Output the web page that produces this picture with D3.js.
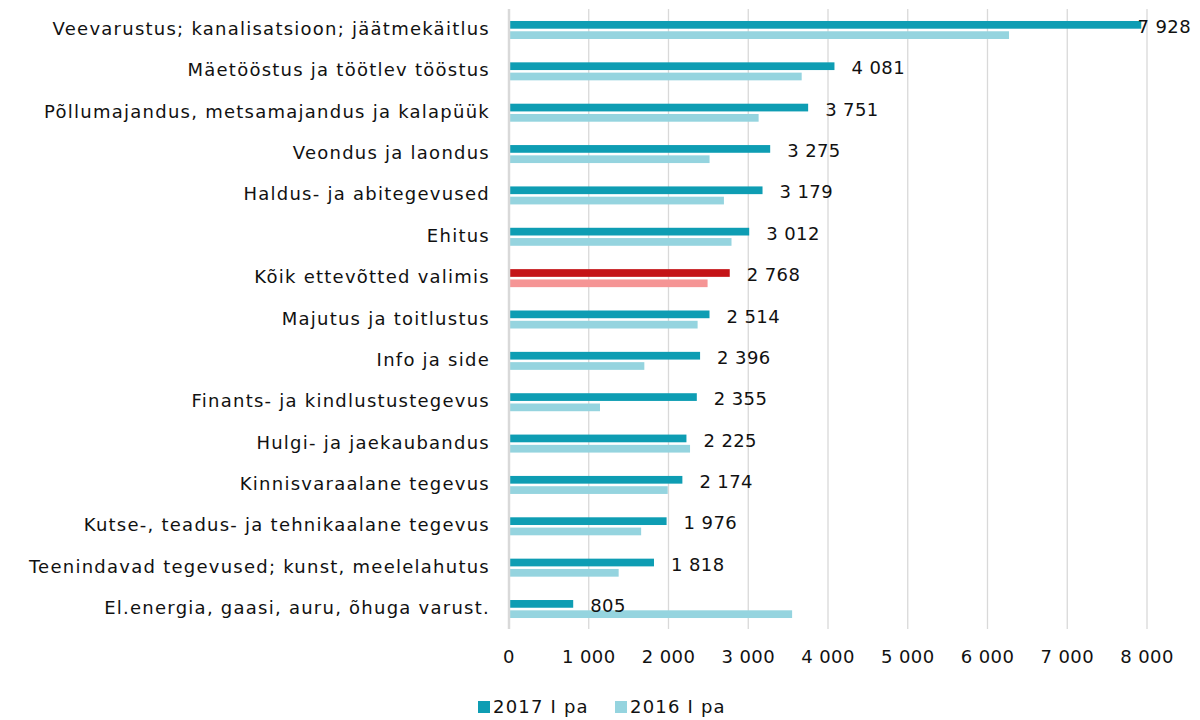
<!DOCTYPE html>
<html>
<head>
<meta charset="utf-8">
<script src="https://cdn.jsdelivr.net/npm/d3@7/dist/d3.min.js"></script>
<style>
  body { margin: 0; background: #fff; }
  text { font-family: "DejaVu Sans", sans-serif; fill: #111; }
</style>
</head>
<body>
<div id="chart"></div>
<script>
var categories = [
  "Veevarustus; kanalisatsioon; jäätmekäitlus",
  "Mäetööstus ja töötlev tööstus",
  "Põllumajandus, metsamajandus ja kalapüük",
  "Veondus ja laondus",
  "Haldus- ja abitegevused",
  "Ehitus",
  "Kõik ettevõtted valimis",
  "Majutus ja toitlustus",
  "Info ja side",
  "Finants- ja kindlustustegevus",
  "Hulgi- ja jaekaubandus",
  "Kinnisvaraalane tegevus",
  "Kutse-, teadus- ja tehnikaalane tegevus",
  "Teenindavad tegevused; kunst, meelelahutus",
  "El.energia, gaasi, auru, õhuga varust."
];
var values2017 = [7928, 4081, 3751, 3275, 3179, 3012, 2768, 2514, 2396, 2355, 2225, 2174, 1976, 1818, 805];
var values2016 = [6270, 3670, 3130, 2515, 2695, 2790, 2490, 2365, 1697, 1141, 2270, 1990, 1657, 1375, 3550];
var seriesNames = ["2017 I pa", "2016 I pa"];
var xTicks = [0, 1000, 2000, 3000, 4000, 5000, 6000, 7000, 8000];
var highlight = "Kõik ettevõtted valimis";

var width = 1200, height = 720;
var fmt = function(v) { return d3.format(",")(v).replace(/,/g, " "); };

var svg = d3.select("#chart").append("svg")
  .attr("width", width)
  .attr("height", height);

var x = d3.scaleLinear().domain([0, 8000]).range([509, 1147]);

var y = d3.scaleBand()
  .domain(categories)
  .range([9.3, 629.7]);

var ySub = d3.scaleBand()
  .domain(seriesNames)
  .range([-9, 9])
  .paddingInner(0.25);

var colors = {
  "2017 I pa": "#0e9db3",
  "2016 I pa": "#95d4df"
};
var hiColors = {
  "2017 I pa": "#c41317",
  "2016 I pa": "#f59595"
};

// gridlines
svg.append("g")
  .selectAll("line")
  .data(xTicks.slice(1))
  .enter().append("line")
  .attr("x1", function(d) { return x(d); })
  .attr("x2", function(d) { return x(d); })
  .attr("y1", 9)
  .attr("y2", 629)
  .style("stroke", "#d9d9d9")
  .style("stroke-width", 1.3);

// bars
var rows = categories.map(function(c, i) {
  return { cat: c, v: [values2017[i], values2016[i]] };
});

var groups = svg.append("g")
  .selectAll("g")
  .data(rows)
  .enter().append("g")
  .attr("transform", function(d) { return "translate(0," + (y(d.cat) + y.bandwidth() / 2) + ")"; });

groups.selectAll("rect")
  .data(function(d) {
    return seriesNames.map(function(s, j) { return { cat: d.cat, s: s, v: d.v[j] }; });
  })
  .enter().append("rect")
  .attr("x", x(0))
  .attr("y", function(d) { return ySub(d.s); })
  .attr("height", ySub.bandwidth())
  .attr("width", function(d) { return x(d.v) - x(0); })
  .style("fill", function(d) { return d.cat == highlight ? hiColors[d.s] : colors[d.s]; });

// value labels for 2017
groups.append("text")
  .attr("y", -2)
  .attr("dominant-baseline", "middle")
  .style("font-size", "18px")
  .style("letter-spacing", "0.4px")
  .text(function(d) { return fmt(d.v[0]); })
  .each(function(d) {
    var w = this.getComputedTextLength();
    var px = x(d.v[0]) + 17;
    if (px + w > 1191) px = 1191 - w;
    d3.select(this).attr("x", px);
  });

// axis line at zero
svg.append("line")
  .attr("x1", x(0)).attr("x2", x(0))
  .attr("y1", 9).attr("y2", 629)
  .style("stroke", "#d9d9d9")
  .style("stroke-width", 2.5);

// category labels
svg.append("g")
  .selectAll("text")
  .data(categories)
  .enter().append("text")
  .attr("x", 490)
  .attr("y", function(d) { return y(d) + y.bandwidth() / 2; })
  .attr("text-anchor", "end")
  .attr("dominant-baseline", "middle")
  .style("font-size", "18px")
  .style("letter-spacing", "1.25px")
  .text(function(d) { return d; });

// x tick labels
svg.append("g")
  .selectAll("text")
  .data(xTicks)
  .enter().append("text")
  .attr("x", function(d) { return x(d); })
  .attr("y", 658)
  .attr("text-anchor", "middle")
  .attr("dominant-baseline", "middle")
  .style("font-size", "18px")
  .style("letter-spacing", "0.4px")
  .text(function(d) { return fmt(d); });

// legend
var legendX = [478, 615];
var legend = svg.append("g")
  .selectAll("g")
  .data(seriesNames)
  .enter().append("g")
  .attr("transform", function(d, i) { return "translate(" + legendX[i] + ",701)"; });

legend.append("rect")
  .attr("width", 12)
  .attr("height", 12)
  .style("fill", function(d) { return colors[d]; });

legend.append("text")
  .attr("x", 15)
  .attr("y", 7)
  .attr("dominant-baseline", "middle")
  .style("font-size", "18px")
  .style("letter-spacing", "1.2px")
  .text(function(d) { return d; });
</script>
</body>
</html>
